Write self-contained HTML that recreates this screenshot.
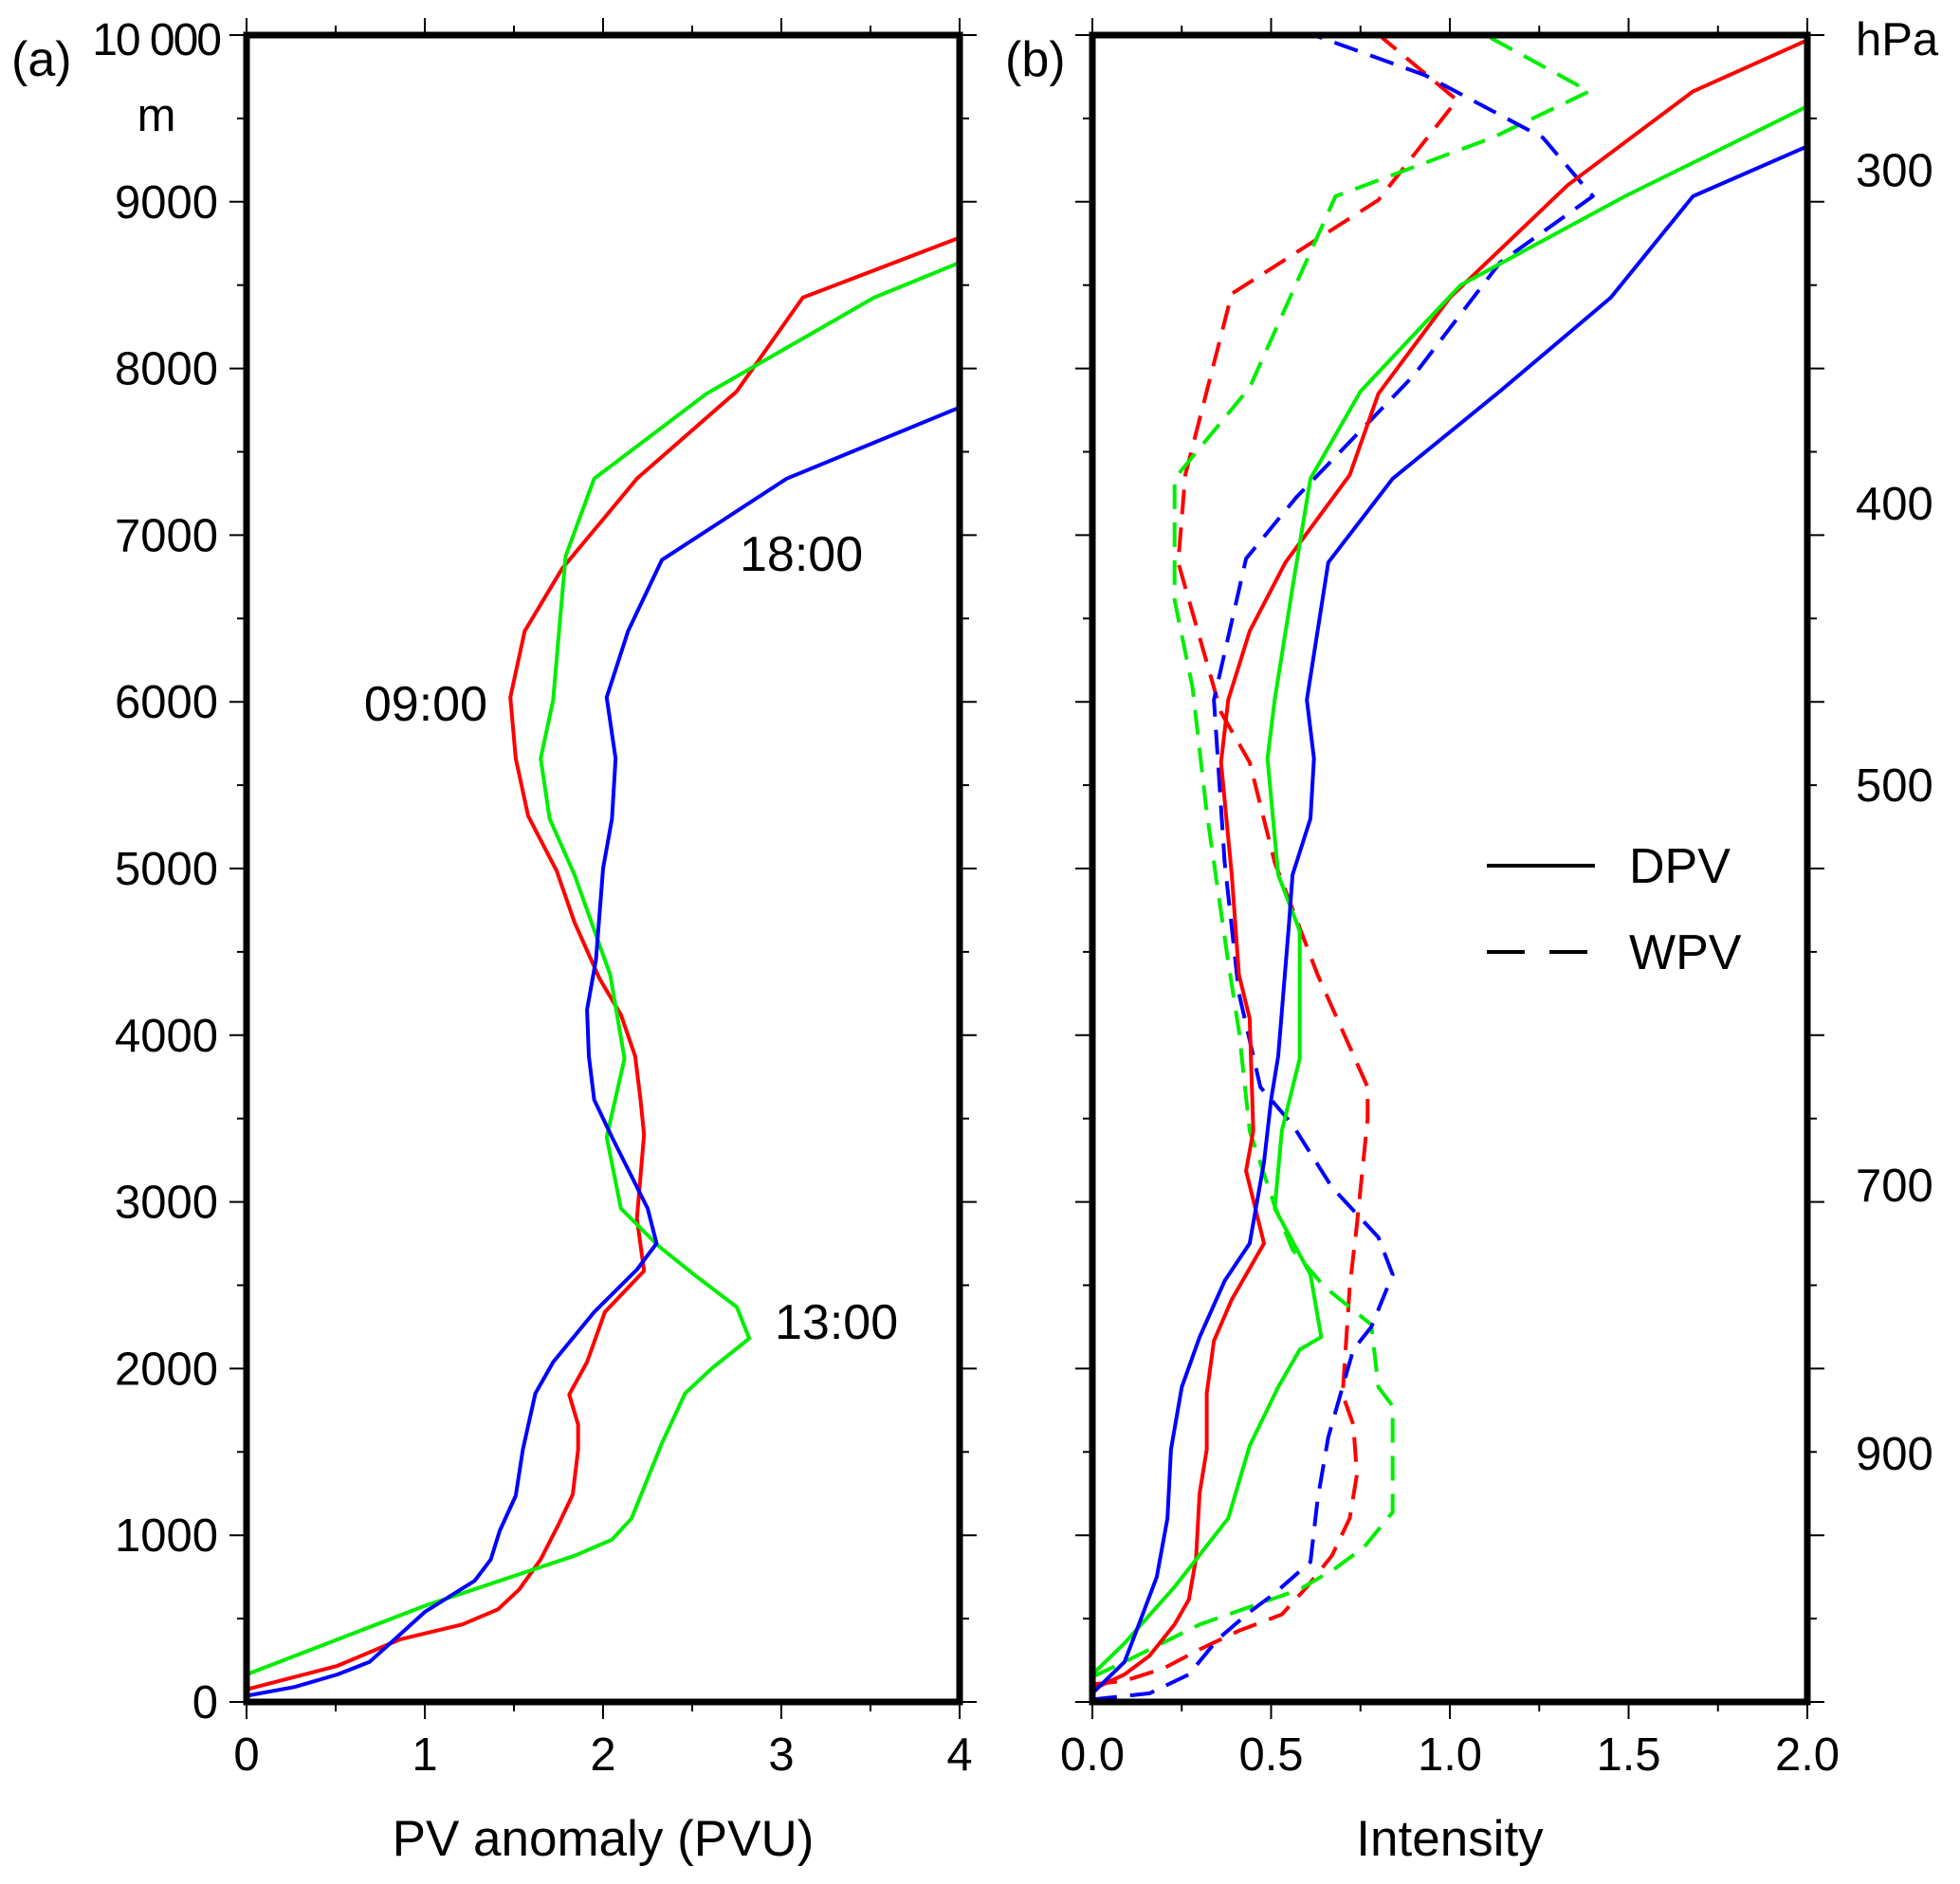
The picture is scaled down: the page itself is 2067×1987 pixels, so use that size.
<!DOCTYPE html>
<html><head><meta charset="utf-8"><style>
html,body{margin:0;padding:0;background:#fff;}
svg{display:block;font-family:"Liberation Sans",Arial,sans-serif;}
</style></head><body>
<svg id="chart" width="2067" height="1987" viewBox="0 0 2067 1987" xmlns="http://www.w3.org/2000/svg">
<defs>
<clipPath id="clipA"><rect x="260" y="37" width="752" height="1758"/></clipPath>
<clipPath id="clipB"><rect x="1152" y="37" width="754" height="1758"/></clipPath>
</defs>
<g id="root"></g>
<g font-family="Liberation Sans, Arial, sans-serif" fill="#000">
<text x="232" y="58" font-size="48" text-anchor="end" letter-spacing="-2">10 000</text>
<text x="165" y="138" font-size="49" text-anchor="middle">m</text>
<text x="12" y="80" font-size="52">(a)</text>
<text x="1060" y="80" font-size="52">(b)</text>
<text x="1957" y="58" font-size="49">hPa</text>
<text x="514" y="760" font-size="52" text-anchor="end">09:00</text>
<text x="780" y="602" font-size="52">18:00</text>
<text x="817" y="1412" font-size="52">13:00</text>
<text x="636" y="1957" font-size="53" text-anchor="middle">PV anomaly (PVU)</text>
<text x="1529" y="1957" font-size="53" text-anchor="middle">Intensity</text>
<line x1="1568" y1="913" x2="1682" y2="913" stroke="#000" stroke-width="4"/>
<text x="1718" y="931" font-size="52">DPV</text>
<line x1="1568" y1="1004" x2="1682" y2="1004" stroke="#000" stroke-width="4" stroke-dasharray="40 26"/>
<text x="1718" y="1022" font-size="52">WPV</text>
</g>
</svg>
<script>
const aRedH=[75,217,375,465,555,675,855,1064,1244,1514,1664,1844,2039,2339,2586,2901,3403,3613,3875,4123,4340,4677,4985,5315,5660,6027,6424,6799,7339,7863,8425,8785];
const aRedV=[0,0.51,0.86,1.21,1.41,1.53,1.65,1.75,1.83,1.86,1.86,1.81,1.91,2.01,2.23,2.19,2.23,2.21,2.18,2.10,1.98,1.84,1.74,1.58,1.51,1.48,1.56,1.77,2.19,2.75,3.12,4.0];
const aGreenH=[165,375,577,727,877,974,1102,1552,1851,2001,2181,2369,2564,2736,2961,3388,3860,4363,4962,5300,5660,6012,6387,6874,7339,7848,8425,8635];
const aGreenV=[0,0.51,1.0,1.42,1.84,2.05,2.16,2.33,2.46,2.61,2.82,2.75,2.51,2.31,2.10,2.02,2.12,2.04,1.84,1.70,1.65,1.72,1.75,1.79,1.95,2.58,3.52,4.0];
const aBlueH=[37,90,165,240,375,540,727,855,1027,1237,1514,1851,2039,2339,2594,2751,2961,3388,3613,3875,4153,4453,5000,5300,5660,6027,6424,6851,7339,7766];
const aBlueV=[0,0.27,0.51,0.69,0.83,1.0,1.28,1.37,1.42,1.51,1.55,1.62,1.72,1.95,2.19,2.30,2.25,2.05,1.95,1.92,1.91,1.96,2.00,2.05,2.07,2.02,2.14,2.33,3.03,4.0];

const bRedH=[75,165,277,465,615,862,1252,1514,1851,2166,2414,2601,2751,3186,3426,4100,4363,4962,5637,6012,6424,6836,7361,7848,8425,9100,9662,9970];
const bRedV=[0,0.09,0.16,0.23,0.27,0.29,0.30,0.32,0.32,0.34,0.39,0.44,0.48,0.43,0.45,0.44,0.41,0.39,0.36,0.38,0.44,0.54,0.72,0.80,1.0,1.33,1.68,2.0];
const bGreenH=[165,352,690,1102,1537,1889,2114,2189,2564,2961,3426,3860,4625,4962,5660,6012,6686,7339,7863,8500,9033,9572];
const bGreenV=[0,0.09,0.23,0.38,0.44,0.52,0.58,0.64,0.61,0.51,0.53,0.58,0.58,0.52,0.49,0.51,0.56,0.61,0.75,1.03,1.49,2.0];
const bBlueH=[52,240,465,750,1102,1514,1889,2189,2526,2751,3238,3613,3875,4663,4962,5300,5660,6012,6836,7339,7863,8425,9033,9333];
const bBlueV=[0,0.09,0.13,0.18,0.21,0.22,0.25,0.30,0.37,0.44,0.48,0.50,0.52,0.55,0.56,0.61,0.62,0.60,0.66,0.84,1.14,1.45,1.68,2.0];
const bRedWH=[105,127,202,315,427,525,690,877,1102,1364,1664,1844,2489,2864,3500,3688,4363,5037,5637,5937,6836,7361,8448,9010,9610,9985];
const bRedWV=[0,0.09,0.20,0.30,0.41,0.53,0.60,0.67,0.72,0.74,0.73,0.70,0.72,0.74,0.77,0.77,0.63,0.51,0.44,0.36,0.24,0.26,0.39,0.80,1.02,0.81];
const bGreenWH=[150,240,465,675,802,929,1139,1552,1776,1889,2264,2489,2714,2976,3426,4025,4438,5337,6087,6611,7339,7886,9033,9385,9662,10000];
const bGreenWV=[0,0.09,0.30,0.58,0.68,0.76,0.84,0.84,0.84,0.80,0.78,0.65,0.56,0.51,0.44,0.41,0.38,0.32,0.28,0.23,0.23,0.44,0.68,1.12,1.39,1.10];
const bBlueWH=[15,52,165,375,540,652,840,1214,1589,1814,2114,2249,2564,2788,3088,3463,3688,4250,5037,6012,6859,7226,7960,8635,9033,9385,9760,10000];
const bBlueWV=[0,0.16,0.27,0.35,0.44,0.51,0.61,0.63,0.66,0.69,0.73,0.78,0.84,0.80,0.67,0.56,0.47,0.41,0.37,0.34,0.43,0.57,0.90,1.14,1.40,1.26,0.93,0.62];

const aXTicks=[0,1,2,3,4];
const aXLabels=["0","1","2","3","4"];
const yTicks=[0,1000,2000,3000,4000,5000,6000,7000,8000,9000];
const bXTicks=[0,0.5,1.0,1.5,2.0];
const bXLabels=["0.0","0.5","1.0","1.5","2.0"];
const hpaLabels=["300","400","500","700","900"];
const hpaHeights=[9190,7190,5500,3100,1490];

const Y0=1795,Y1=37;
const yS=h=>Y0+(Y1-Y0)*h/10000;
const AX0=260,AX1=1012,BX0=1152,BX1=1906;
const xA=v=>AX0+(AX1-AX0)*v/4;
const xB=v=>BX0+(BX1-BX0)*v/2;

const NS="http://www.w3.org/2000/svg";
const root=document.getElementById('root');
function mk(tag,attrs,parent){const e=document.createElementNS(NS,tag);for(const k in attrs)e.setAttribute(k,attrs[k]);(parent||root).appendChild(e);return e;}
function txt(s,x,y,size,anchor){const t=mk('text',{x:x,y:y,'font-size':size,'text-anchor':anchor||'start',fill:'#000'});t.textContent=s;return t;}

function series(H,V,xf,color,dash,clip,name){
  const pts=H.map((h,i)=>xf(V[i]).toFixed(1)+','+yS(h).toFixed(1)).join(' ');
  const p=mk('polyline',{points:pts,fill:'none',stroke:color,'stroke-width':4,'stroke-linejoin':'round','clip-path':'url(#'+clip+')'});
  if(dash)p.setAttribute('stroke-dasharray','26 14');
  
  
}

function frame(x0,x1,name){
  const g=mk('g',{});
  
  
  for(let h=0;h<=10000;h+=500){
    const len=h%1000===0?18:10;
    mk('line',{x1:x0-len,x2:x0,y1:yS(h),y2:yS(h),stroke:'#000','stroke-width':2},g);
    mk('line',{x1:x1,x2:x1+len,y1:yS(h),y2:yS(h),stroke:'#000','stroke-width':2},g);
  }
  mk('rect',{x:x0,y:Y1,width:x1-x0,height:Y0-Y1,fill:'none',stroke:'#000','stroke-width':7},g);
}

series(aRedH,aRedV,xA,'#ff0000',false,'clipA','series-a-0900');
series(aGreenH,aGreenV,xA,'#00ee00',false,'clipA','series-a-1300');
series(aBlueH,aBlueV,xA,'#0000ff',false,'clipA','series-a-1800');
series(bRedWH,bRedWV,xB,'#ff0000',true,'clipB','series-b-wpv-0900');
series(bGreenWH,bGreenWV,xB,'#00ee00',true,'clipB','series-b-wpv-1300');
series(bBlueWH,bBlueWV,xB,'#0000ff',true,'clipB','series-b-wpv-1800');
series(bRedH,bRedV,xB,'#ff0000',false,'clipB','series-b-dpv-0900');
series(bGreenH,bGreenV,xB,'#00ee00',false,'clipB','series-b-dpv-1300');
series(bBlueH,bBlueV,xB,'#0000ff',false,'clipB','series-b-dpv-1800');

frame(AX0,AX1,'panel-a-frame');
frame(BX0,BX1,'panel-b-frame');

aXTicks.forEach((v,i)=>{
  for(const yy of [[Y0,Y0+18],[Y1-18,Y1]]) mk('line',{x1:xA(v),x2:xA(v),y1:yy[0],y2:yy[1],stroke:'#000','stroke-width':2});
  if(i<aXTicks.length-1){const m=xA(v+0.5);mk('line',{x1:m,x2:m,y1:Y0,y2:Y0+10,stroke:'#000','stroke-width':2});mk('line',{x1:m,x2:m,y1:Y1-10,y2:Y1,stroke:'#000','stroke-width':2});}
  const t=txt(aXLabels[i],xA(v),1867,49,'middle');
  
  
});
bXTicks.forEach((v,i)=>{
  for(const yy of [[Y0,Y0+18],[Y1-18,Y1]]) mk('line',{x1:xB(v),x2:xB(v),y1:yy[0],y2:yy[1],stroke:'#000','stroke-width':2});
  if(i<bXTicks.length-1){const m=xB(v+0.25);mk('line',{x1:m,x2:m,y1:Y0,y2:Y0+10,stroke:'#000','stroke-width':2});mk('line',{x1:m,x2:m,y1:Y1-10,y2:Y1,stroke:'#000','stroke-width':2});}
  const t=txt(bXLabels[i],xB(v),1867,49,'middle');
  
  
});
yTicks.forEach(h=>{
  const t=txt(String(h),230,yS(h)+17,49,'end');
  
  
});
hpaLabels.forEach((s,i)=>{
  const t=txt(s,1957,yS(hpaHeights[i])+17,49,'start');
  
  
});
</script>
</body></html>
